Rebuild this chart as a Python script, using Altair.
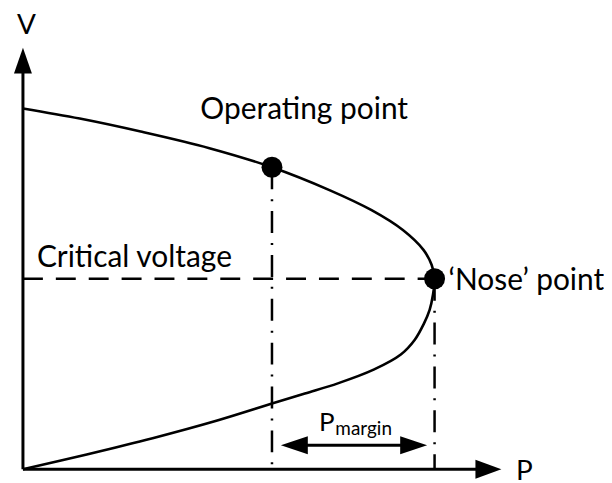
import altair as alt
import pandas as pd

# ---- data (P in units of the nose power, V in units of no-load voltage)
curve_p = [0.0, 0.138, 0.286, 0.453, 0.605, 0.746, 0.847, 0.923, 0.973, 0.993, 1.0,
           0.996, 0.988, 0.973, 0.952, 0.918, 0.852, 0.765, 0.685, 0.605, 0.472, 0.315, 0.155, 0.0]
curve_v = [1.0, 0.972, 0.936, 0.890, 0.837, 0.773, 0.718, 0.663, 0.608, 0.566, 0.528,
           0.483, 0.442, 0.401, 0.359, 0.318, 0.276, 0.238, 0.210, 0.182, 0.135, 0.086, 0.041, 0.0]

point_names = ["Operating point", "Nose point"]
point_p = [0.605, 1.0]
point_v = [0.837, 0.528]

label_text = ["Operating point", "Critical voltage", "\u2018Nose\u2019 point"]
label_p = [0.4310, 0.0339, 1.0339]
label_v = [0.9696, 0.5608, 0.4972]
axis_text = ["V", "P"]
axis_text_p = [-0.0145, 1.198]
axis_text_v = [1.2072, -0.0304]
pm_text = ["P"]
pm_p = [0.719]
pm_v = [0.1050]
sub_text = ["margin"]
sub_p = [0.759]
sub_v = [0.094]

axis_tip_v = 1.1326
axis_tip_p = 1.1308
margin_left_p = 0.6593
margin_right_p = 0.9492
margin_v = 0.0663

# ---- scales
W, H = 598, 475
X0 = -15 / 413
XS = alt.Scale(domain=[X0, X0 + W / 413], nice=False, zero=False)
Y1 = 462 / 362
YS = alt.Scale(domain=[Y1 - H / 362, Y1], nice=False, zero=False)


def X(f):
    return alt.X(f, type="quantitative", scale=XS, axis=None)


def Y(f):
    return alt.Y(f, type="quantitative", scale=YS, axis=None)


curve_df = pd.DataFrame({"p": curve_p, "v": curve_v, "i": list(range(len(curve_p)))})
pts_df = pd.DataFrame({"name": point_names, "p": point_p, "v": point_v})
lab_df = pd.DataFrame({"t": label_text, "p": label_p, "v": label_v})
alab_df = pd.DataFrame({"t": axis_text, "p": axis_text_p, "v": axis_text_v})
pm_df = pd.DataFrame({"t": pm_text, "p": pm_p, "v": pm_v})
sub_df = pd.DataFrame({"t": sub_text, "p": sub_p, "v": sub_v})

axes_df = pd.DataFrame({"p": [0.0, 0.0], "v": [0.0, 0.0], "p2": [0.0, axis_tip_p], "v2": [axis_tip_v, 0.0]})

crit_df = pd.DataFrame({"p": [0.0], "p2": [point_p[1]], "v": [point_v[1]]})
vert_df = pd.DataFrame({"p": point_p, "v": point_v, "v2": [0.0, 0.0]})

shaft_df = pd.DataFrame({"p": [margin_left_p], "p2": [margin_right_p], "v": [margin_v]})

axes = alt.Chart(axes_df).mark_rule(color="black", strokeWidth=3).encode(
    x=X("p"), x2="p2", y=Y("v"), y2="v2")

up_arrow = alt.Chart(pd.DataFrame({"p": [0.0], "v": [axis_tip_v]})).mark_point(
    shape="M0,-1L0.692,1L-0.692,1Z", size=676, filled=True, color="black", opacity=1, strokeWidth=0
).encode(x=X("p"), y=Y("v"))
right_arrow = alt.Chart(pd.DataFrame({"p": [axis_tip_p], "v": [0.0]})).mark_point(
    shape="M1,0L-1,-0.73L-1,0.73Z", size=676, filled=True, color="black", opacity=1, strokeWidth=0
).encode(x=X("p"), y=Y("v"))

crit = alt.Chart(crit_df).mark_rule(color="black", strokeWidth=2.5, strokeDash=[20, 13]).encode(
    x=X("p"), x2="p2", y=Y("v"))
verts = alt.Chart(vert_df).mark_rule(color="black", strokeWidth=2.5, strokeDash=[22, 10, 2, 10]).encode(
    x=X("p"), y=Y("v"), y2="v2")

shaft = alt.Chart(shaft_df).mark_rule(color="black", strokeWidth=3).encode(
    x=X("p"), x2="p2", y=Y("v"))
left_head = alt.Chart(pd.DataFrame({"p": [margin_left_p], "v": [margin_v]})).mark_point(
    shape="M-1,0L1,-0.667L1,0.667Z", size=729, filled=True, color="black", opacity=1, strokeWidth=0
).encode(x=X("p"), y=Y("v"))
right_head = alt.Chart(pd.DataFrame({"p": [margin_right_p], "v": [margin_v]})).mark_point(
    shape="M1,0L-1,-0.667L-1,0.667Z", size=729, filled=True, color="black", opacity=1, strokeWidth=0
).encode(x=X("p"), y=Y("v"))

curve = alt.Chart(curve_df).mark_line(color="black", strokeWidth=2.6, interpolate="catmull-rom").encode(
    x=X("p"), y=Y("v"), order="i:Q")

dots = alt.Chart(pts_df).mark_point(shape="circle", size=441, filled=True, color="black", opacity=1,
                                    strokeWidth=0).encode(x=X("p"), y=Y("v"))

labels = alt.Chart(lab_df).mark_text(font="Lato", fontSize=30, align="left", baseline="alphabetic",
                                     color="black").encode(x=X("p"), y=Y("v"), text="t:N")
alabels = alt.Chart(alab_df).mark_text(font="Lato", fontSize=28, align="left", baseline="alphabetic",
                                       color="black").encode(x=X("p"), y=Y("v"), text="t:N")
pmlabel = alt.Chart(pm_df).mark_text(font="Lato", fontSize=26, align="left", baseline="alphabetic",
                                     color="black").encode(x=X("p"), y=Y("v"), text="t:N")
subs = alt.Chart(sub_df).mark_text(font="Lato", fontSize=19, align="left", baseline="alphabetic",
                                   color="black").encode(x=X("p"), y=Y("v"), text="t:N")

chart = alt.layer(axes, crit, verts, shaft, curve, up_arrow, right_arrow, left_head, right_head,
                  dots, labels, alabels, pmlabel, subs).properties(
    width=W, height=H, autosize=alt.AutoSizeParams(type="none"), padding=0
).configure_view(stroke=None)

chart.save("out.html", embed_options={"renderer": "svg", "actions": False})
